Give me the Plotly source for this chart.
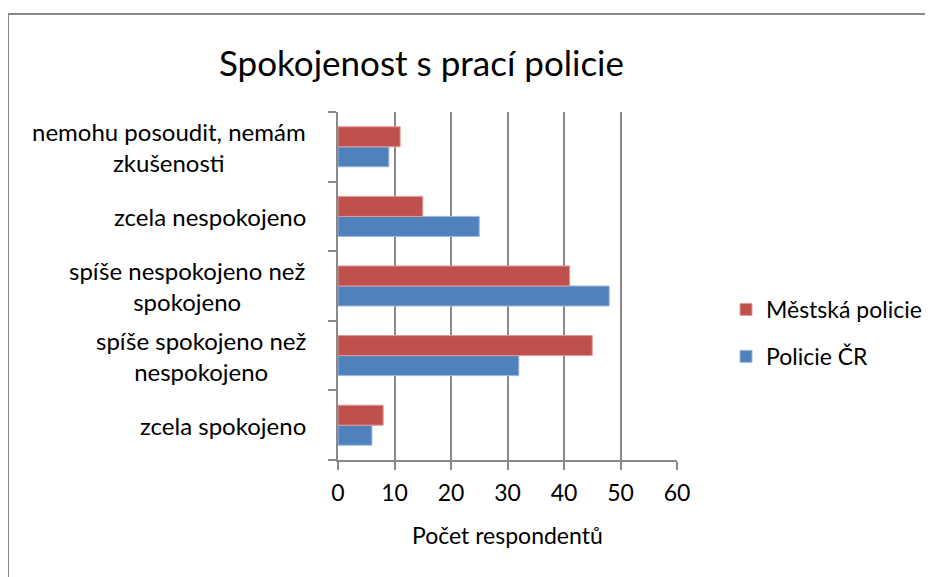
import plotly.graph_objects as go

categories = [
    "zcela spokojeno",
    "spíše spokojeno než<br>nespokojeno",
    "spíše nespokojeno než<br>spokojeno",
    "zcela nespokojeno",
    "nemohu posoudit, nemám<br>zkušenosti",
]
policie_cr = [6, 32, 48, 25, 9]
mestska_policie = [8, 45, 41, 15, 11]
x_ticks = [0, 10, 20, 30, 40, 50, 60]

FONT = "Lato"
OFF = 8  # page body offset
W, H = 933, 577
L, R, T, B = 338 - OFF, 933 - 677 + OFF, 112 - OFF, 577 - 460 + OFF
pw, ph = W - L - R, H - T - B

def px(x):
    return (x - OFF - L) / pw

def py(y):
    return (H - B - (y - OFF)) / ph

fig = go.Figure()
fig.add_trace(go.Bar(
    y=list(range(len(categories))), x=policie_cr, orientation="h",
    name="Policie ČR", marker=dict(color="#4F81BD", line=dict(color="#9DB8DC", width=1)),
    legendgroup="a", legendrank=2,
))
fig.add_trace(go.Bar(
    y=list(range(len(categories))), x=mestska_policie, orientation="h",
    name="Městská policie", marker=dict(color="#C0504D", line=dict(color="#E09A98", width=1)),
    legendgroup="b", legendrank=1,
))

annotations = []
for i, c in enumerate(categories):
    annotations.append(dict(
        x=px(308), xref="paper", y=i, yref="y", text=c, showarrow=False,
        xanchor="right", yanchor="middle", align="center",
        font=dict(family=FONT, size=24, color="#000000"),
    ))
annotations.append(dict(
    x=px(421), xref="paper", y=py(62), yref="paper", text="Spokojenost s prací policie",
    showarrow=False, xanchor="center", yanchor="middle",
    font=dict(family=FONT, size=35, color="#000000"),
))
annotations.append(dict(
    x=px(507), xref="paper", y=py(535), yref="paper", text="Počet respondentů",
    showarrow=False, xanchor="center", yanchor="middle",
    font=dict(family=FONT, size=23, color="#000000"),
))

shapes = [
    dict(type="line", xref="paper", yref="paper", x0=px(8), x1=px(8), y0=py(14), y1=py(590),
         line=dict(color="#888888", width=2)),
    dict(type="line", xref="paper", yref="paper", x0=px(8), x1=px(940), y0=py(14), y1=py(14),
         line=dict(color="#888888", width=2)),
]

fig.update_layout(
    width=W, height=H,
    margin=dict(l=L, r=R, t=T, b=B, pad=0),
    paper_bgcolor="white", plot_bgcolor="white",
    barmode="group", bargap=0.425, bargroupgap=0,
    showlegend=True,
    legend=dict(
        x=px(726), y=py(333), xanchor="left", yanchor="middle",
        traceorder="grouped", tracegroupgap=14,
        font=dict(family=FONT, size=23, color="#000000"),
        bgcolor="rgba(0,0,0,0)",
    ),
    font=dict(family=FONT, size=23, color="#000000"),
    annotations=annotations,
    shapes=shapes,
)
fig.update_xaxes(
    range=[0, 60], tickvals=x_ticks, ticktext=[str(v) for v in x_ticks],
    showgrid=True, gridcolor="#898989", gridwidth=1.5,
    showline=True, linecolor="#898989", linewidth=1.5,
    ticks="outside", ticklen=8, tickcolor="#898989", tickwidth=1.5,
    tickfont=dict(family=FONT, size=23), zeroline=False, ticklabelstandoff=4,
)
fig.update_yaxes(
    range=[-0.5, len(categories) - 0.5],
    tickvals=[i - 0.5 for i in range(len(categories) + 1)], ticktext=[""] * (len(categories) + 1),
    showgrid=False, showline=True, linecolor="#898989", linewidth=1.5,
    ticks="outside", ticklen=8, tickcolor="#898989", tickwidth=1.5, zeroline=False,
)

fig.write_html("out.html")
